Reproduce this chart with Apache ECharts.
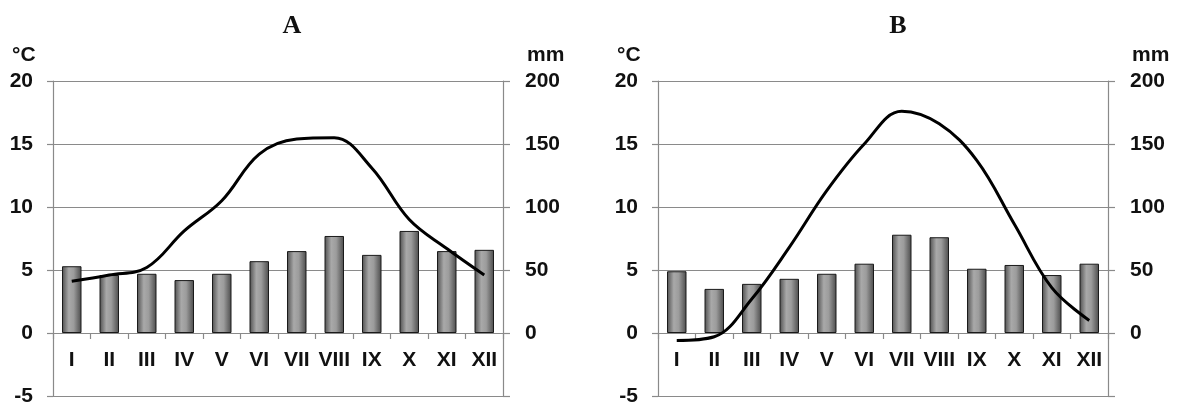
<!DOCTYPE html>
<html>
<head>
<meta charset="utf-8">
<script src="https://cdn.jsdelivr.net/npm/echarts@6/dist/echarts.min.js"></script>
<style>
html,body{margin:0;padding:0;background:#fff;}
#chart{width:1181px;height:403px;}
</style>
</head>
<body>
<div id="chart"></div>
<script>
const months = ['I','II','III','IV','V','VI','VII','VIII','IX','X','XI','XII'];
const tempA = [4.1, 4.6, 5.2, 8.1, 10.5, 14.2, 15.4, 15.5, 13.1, 9.0, 6.7, 4.6];
const precA = [53, 46, 47, 42, 47, 57, 65, 77, 62, 81, 65, 66];
const tempB = [-0.6, -0.3, 2.7, 6.8, 11.3, 15.0, 17.6, 16.6, 13.7, 8.65, 3.6, 1.0];
const precB = [49, 35, 39, 43, 47, 55, 78, 76, 51, 54, 46, 55];
const titles = ['A', 'B'];
const tempUnit = '°C';
const precUnit = 'mm';

const chart = echarts.init(document.getElementById('chart'));
const gridCol = '#8a8a8a';
const labelFont = {fontFamily:'Liberation Sans, Arial, sans-serif', fontWeight:'bold', fontSize:21, color:'#111'};

function barColor(){
  return new echarts.graphic.LinearGradient(0,0,1,0,[
    {offset:0,color:'#4e4e4e'},
    {offset:0.35,color:'#a9a9a9'},
    {offset:0.6,color:'#9c9c9c'},
    {offset:1,color:'#4a4a4a'}
  ]);
}

const gridTop = 81, gridBottom = 7;
const plotH = 403 - gridTop - gridBottom;
const zeroOffset = -plotH * 5 / 25;

const grids = [
  {left:53, right:678, top:gridTop, bottom:gridBottom, containLabel:false, outerBoundsMode:'none'},
  {left:658, right:73, top:gridTop, bottom:gridBottom, containLabel:false, outerBoundsMode:'none'}
];

const xAxes = [], yAxes = [], series = [];
[0,1].forEach(i=>{
  xAxes.push({
    type:'category', gridIndex:i, data:months, boundaryGap:true, position:'bottom', offset:zeroOffset,
    axisLine:{show:true, onZero:false, lineStyle:{color:gridCol,width:1.2}},
    axisTick:{show:true, length:6, alignWithLabel:false, lineStyle:{color:gridCol,width:1.2}},
    axisLabel:Object.assign({margin:17, interval:0}, labelFont),
    splitLine:{show:false}
  });
  yAxes.push({
    type:'value', gridIndex:i, min:-5, max:20, interval:5, position:'left',
    axisLine:{show:true, lineStyle:{color:gridCol,width:1.2}},
    axisTick:{show:true, length:6, lineStyle:{color:gridCol,width:1.2}},
    axisLabel:Object.assign({margin:20}, labelFont),
    splitLine:{show:true, lineStyle:{color:gridCol,width:1.2}}
  });
  yAxes.push({
    type:'value', gridIndex:i, min:-50, max:200, interval:50, position:'right',
    axisLine:{show:true, lineStyle:{color:gridCol,width:1.2}},
    axisTick:{show:true, length:7, lineStyle:{color:gridCol,width:1.2}},
    axisLabel:Object.assign({margin:22, formatter:v=> v<0 ? '' : String(v)}, labelFont),
    splitLine:{show:false}
  });
});

series.push({
  type:'bar', xAxisIndex:0, yAxisIndex:1, data:precA, barWidth:'52%',
  itemStyle:{color:barColor(), borderColor:'#1a1a1a', borderWidth:1}, z:2
});
series.push({
  type:'line', xAxisIndex:0, yAxisIndex:0, data:tempA, smooth:0.38, symbol:'none',
  lineStyle:{color:'#000', width:3}, z:3
});
series.push({
  type:'bar', xAxisIndex:1, yAxisIndex:3, data:precB, barWidth:'52%',
  itemStyle:{color:barColor(), borderColor:'#1a1a1a', borderWidth:1}, z:2
});
series.push({
  type:'line', xAxisIndex:1, yAxisIndex:2, data:tempB, smooth:0.38, symbol:'none',
  lineStyle:{color:'#000', width:3}, z:3
});

const unitStyle = {fontFamily:'Liberation Sans, Arial, sans-serif', fontWeight:'bold', fontSize:21, color:'#111'};
const titleStyle = {fontFamily:'Liberation Serif, Times New Roman, serif', fontWeight:'bold', fontSize:26, color:'#111'};

chart.setOption({
  backgroundColor:'#fff',
  animation:false,
  title:[
    {text:titles[0], left:287, top:8, textAlign:'center', textStyle:titleStyle},
    {text:titles[1], left:893, top:8, textAlign:'center', textStyle:titleStyle},
    {text:tempUnit, left:7, top:40, textStyle:unitStyle},
    {text:precUnit, left:522, top:40, textStyle:unitStyle},
    {text:tempUnit, left:612, top:40, textStyle:unitStyle},
    {text:precUnit, left:1127, top:40, textStyle:unitStyle}
  ],
  grid:grids,
  xAxis:xAxes,
  yAxis:yAxes,
  series:series
});
</script>
</body>
</html>
